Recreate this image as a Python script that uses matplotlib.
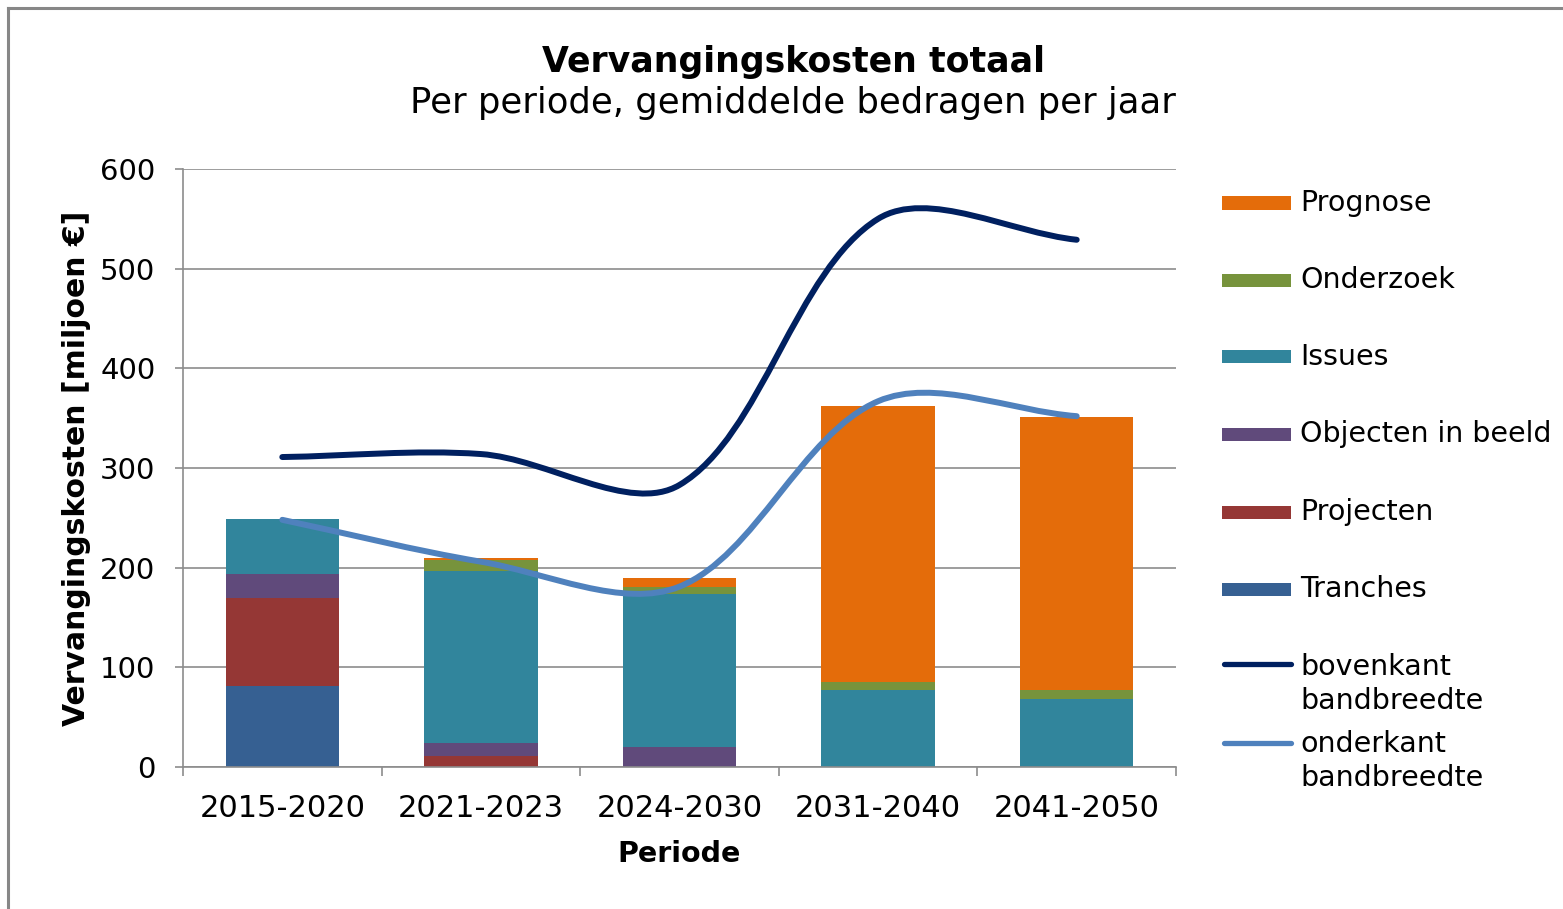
import numpy as np
import matplotlib
matplotlib.use("Agg")
import matplotlib.pyplot as plt
from matplotlib.path import Path
from matplotlib.patches import PathPatch, Rectangle
from matplotlib.lines import Line2D

# data (miljoen euro per jaar)
periods = ["2015-2020", "2021-2023", "2024-2030", "2031-2040", "2041-2050"]
tranches = [81, 0, 0, 0, 0]
projecten = [89, 11, 0, 0, 0]
objecten = [23.5, 13, 20, 0, 0]
issues = [55, 172.5, 154, 77, 68]
onderzoek = [0, 11.5, 6.5, 8.5, 9]
prognose = [0, 1.5, 9, 277, 274.5]
bovenkant = [311, 314, 283, 550, 529]
onderkant = [248, 206, 181, 367, 352]

SERIES = [
    ("Tranches", tranches, "#366092"),
    ("Projecten", projecten, "#953735"),
    ("Objecten in beeld", objecten, "#604A7B"),
    ("Issues", issues, "#31859C"),
    ("Onderzoek", onderzoek, "#77933C"),
    ("Prognose", prognose, "#E46C0A"),
]
LINES = [
    ("bovenkant\nbandbreedte", bovenkant, "#002060"),
    ("onderkant\nbandbreedte", onderkant, "#4F81BD"),
]

W, H = 1563, 909
GRID = "#8C8C8C"


def fig_xy(x, y):
    return x / W, 1 - y / H


def smooth_path(ax, xs, ys):
    # Excel-like smoothed line: cubic bezier, tangents scaled by screen segment lengths
    pts = ax.transData.transform(np.column_stack([xs, ys]))
    n = len(pts)
    c_in = [None] * n
    c_out = [None] * n
    for i in range(1, n - 1):
        d_prev = np.hypot(*(pts[i] - pts[i - 1]))
        d_next = np.hypot(*(pts[i + 1] - pts[i]))
        tang = pts[i + 1] - pts[i - 1]
        c_in[i] = pts[i] - tang * d_prev / (d_prev + d_next) / 3.0
        c_out[i] = pts[i] + tang * d_next / (d_prev + d_next) / 3.0
    c_out[0] = pts[0] + (pts[1] - pts[0]) / 3.0
    c_in[n - 1] = pts[n - 1] - (pts[n - 1] - pts[n - 2]) / 3.0
    verts = [pts[0]]
    codes = [Path.MOVETO]
    for i in range(n - 1):
        verts += [c_out[i], c_in[i + 1], pts[i + 1]]
        codes += [Path.CURVE4] * 3
    verts = ax.transData.inverted().transform(np.array(verts))
    return Path(verts, codes)


fig = plt.figure(figsize=(W / 100, H / 100), dpi=100)
ax = fig.add_axes([183 / W, 1 - 767 / H, (1176 - 183) / W, (767 - 169) / H])

x = np.arange(len(periods))
bottom = np.zeros(len(periods))
for name, vals, color in SERIES:
    ax.bar(x, vals, width=0.57, bottom=bottom, color=color, edgecolor="none", zorder=2)
    bottom += np.array(vals)

ax.set_xlim(-0.5, len(periods) - 0.5)
ax.set_ylim(0, 600)
ax.set_yticks(range(0, 601, 100))
ax.yaxis.grid(True, color=GRID, linewidth=1.2, zorder=0)
ax.set_axisbelow(True)

for name, vals, color in LINES:
    path = smooth_path(ax, x, vals)
    ax.add_patch(PathPatch(path, fill=False, edgecolor=color, linewidth=4.3,
                           capstyle="round", joinstyle="round", zorder=3))

for side in ("top", "right"):
    ax.spines[side].set_visible(False)
for side in ("left", "bottom"):
    ax.spines[side].set_color(GRID)
    ax.spines[side].set_linewidth(1.2)

ax.set_xticks(x)
ax.set_xticklabels(periods)
ax.set_xticks(np.arange(-0.5, len(periods)), minor=True)
ax.tick_params(axis="x", which="major", length=0, pad=19.5, labelsize=22)
ax.tick_params(axis="x", which="minor", length=6.5, width=1.2, color=GRID, direction="out")
ax.tick_params(axis="y", length=5.8, width=1.2, color=GRID, pad=14, labelsize=21)

ax.set_xlabel("Periode", fontsize=20.5, fontweight="bold", labelpad=12)
ax.set_ylabel("Vervangingskosten [miljoen €]", fontsize=21.5, fontweight="bold", labelpad=6.5)

tx, ty = fig_xy(793, 72)
fig.text(tx, ty, "Vervangingskosten totaal", fontsize=25, fontweight="bold", ha="center", va="baseline")
tx, ty = fig_xy(793, 113)
fig.text(tx, ty, "Per periode, gemiddelde bedragen per jaar", fontsize=25.5, ha="center", va="baseline")

# legend, drawn by hand to keep Excel's even spacing
legend_y = [203, 280, 357, 434, 512, 589]
for (name, vals, color), yc in zip(reversed(SERIES), legend_y):
    x0, y0 = fig_xy(1222, yc + 6.5)
    fig.add_artist(Rectangle((x0, y0), 69 / W, 13 / H, transform=fig.transFigure,
                             facecolor=color, edgecolor="none"))
    lx, ly = fig_xy(1300, yc)
    fig.text(lx, ly, name, fontsize=20.5, ha="left", va="center")
for (name, vals, color), yl, yc in zip(LINES, [664, 743], [684, 761]):
    xa, ya = fig_xy(1224, yl)
    xb, _ = fig_xy(1291, yl)
    fig.add_artist(Line2D([xa, xb], [ya, ya], transform=fig.transFigure, color=color,
                          linewidth=3.8, solid_capstyle="round"))
    lx, ly = fig_xy(1300, yc)
    fig.text(lx, ly, name, fontsize=20.5, ha="left", va="center", linespacing=1.25)

# outer chart frame (only left and top edges are visible in the crop)
fx, fy = fig_xy(8, 8)
_, fb = fig_xy(8, H)
fig.add_artist(Line2D([fx, fx], [fb, fy], transform=fig.transFigure, color="#878787", linewidth=2.2))
fig.add_artist(Line2D([fx, 1], [fy, fy], transform=fig.transFigure, color="#878787", linewidth=2.2))

fig.savefig("out.png", dpi=100)
